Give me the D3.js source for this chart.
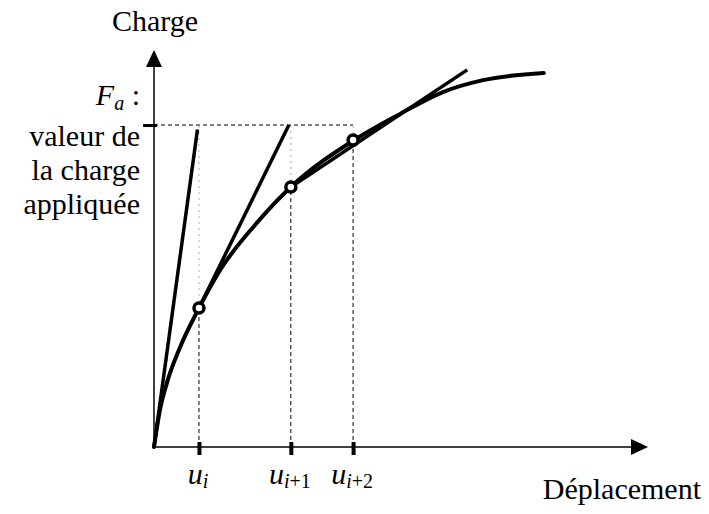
<!DOCTYPE html>
<html>
<head>
<meta charset="utf-8">
<script src="https://cdn.jsdelivr.net/npm/d3@7"></script>
<style>
  body { margin: 0; background: #fff; }
  svg { display: block; font-family: "Liberation Serif", "Times New Roman", serif; }
  .axis-line { stroke: #000; stroke-width: 1.5; fill: none; }
  .arrow { fill: #000; }
  .curve { fill: none; stroke: #000; stroke-width: 4; stroke-linecap: round; }
  .tangent { stroke: #000; stroke-width: 3.5; }
  .guide { stroke: #000; stroke-width: 1; stroke-dasharray: 4,3; }
  .guide-faint { stroke: #aaa; stroke-width: 1; stroke-dasharray: 2,4; }
  .point { fill: #fff; stroke: #000; stroke-width: 3.5; }
  .tick line { stroke: #000; }
  text { fill: #000; }
</style>
</head>
<body>
<svg id="chart" width="709" height="514"></svg>
<script>
// load-displacement curve (arbitrary units, 0..100)
const curveX = [0, 1.2, 2.6, 5.3, 8.9, 13.4, 20.5, 27.7, 40.5, 49.8, 58.5, 66.6, 78.9];
const curveY = [0, 9.3, 16.1, 25.2, 34.5, 44.6, 56.0, 65.5, 77.3, 83.9, 89.4, 92.4, 94.2];

// iterations
const iterU = [9.1, 27.7, 40.3];
const iterF = [35.0, 65.5, 77.3];
const iterSub = ["i", "i", "i"];
const iterSubRest = ["", "+1", "+2"];

const appliedLoad = 81.1;

// tangent (stiffness) segments
const tangentX0 = [0, 9.1, 27.7];
const tangentY0 = [0, 35.0, 65.5];
const tangentX1 = [8.8, 27.3, 63.4];
const tangentY1 = [80.0, 81.1, 95.0];

const leftLabel = ["valeur de", "la charge", "appliquée"];

const x = d3.scaleLinear().domain([0, 100]).range([154, 648]);
const y = d3.scaleLinear().domain([0, 100]).range([447, 50]);

const svg = d3.select("#chart");

// guides
iterU.forEach((u, i) => {
  svg
    .append("line")
    .attr("class", "guide-faint")
    .attr("x1", x(u))
    .attr("x2", x(u))
    .attr("y1", y(iterF[i]))
    .attr("y2", y(appliedLoad));
  svg
    .append("line")
    .attr("class", "guide")
    .attr("x1", x(u))
    .attr("x2", x(u))
    .attr("y1", y(0))
    .attr("y2", y(iterF[i]));
});

svg
  .append("line")
  .attr("class", "guide")
  .attr("x1", x(0))
  .attr("x2", x(iterU[2]))
  .attr("y1", y(appliedLoad))
  .attr("y2", y(appliedLoad));

// axes
const xAxis = svg
  .append("g")
  .attr("transform", `translate(0,${y(0)})`)
  .call(d3.axisBottom(x).tickValues(iterU).tickFormat("").tickSizeOuter(0));
xAxis.select(".domain").remove();
xAxis.selectAll(".tick line").attr("y1", -5).attr("y2", 8).attr("stroke-width", 4);

const yAxis = svg
  .append("g")
  .attr("transform", `translate(${x(0)},0)`)
  .call(d3.axisLeft(y).tickValues([appliedLoad]).tickFormat("").tickSizeOuter(0));
yAxis.select(".domain").remove();
yAxis.selectAll(".tick line").attr("x1", 3).attr("x2", -11).attr("stroke-width", 3);

svg
  .append("line")
  .attr("class", "axis-line")
  .attr("x1", x(0))
  .attr("x2", x(100) - 10)
  .attr("y1", y(0))
  .attr("y2", y(0));

svg
  .append("line")
  .attr("class", "axis-line")
  .attr("x1", x(0))
  .attr("x2", x(0))
  .attr("y1", y(0))
  .attr("y2", y(100) + 10);

svg
  .append("path")
  .attr("class", "arrow")
  .attr("d", `M${x(100)},${y(0)} L${x(100) - 17},${y(0) - 8} L${x(100) - 17},${y(0) + 8} Z`);

svg
  .append("path")
  .attr("class", "arrow")
  .attr("d", `M${x(0)},${y(100)} L${x(0) - 8},${y(100) + 17} L${x(0) + 8},${y(100) + 17} Z`);

// curve
const line = d3
  .line()
  .x(d => x(d[0]))
  .y(d => y(d[1]))
  .curve(d3.curveMonotoneX);

svg
  .append("path")
  .datum(d3.zip(curveX, curveY))
  .attr("class", "curve")
  .attr("d", line);

// tangents
tangentX0.forEach((x0, i) => {
  svg
    .append("line")
    .attr("class", "tangent")
    .attr("x1", x(x0))
    .attr("y1", y(tangentY0[i]))
    .attr("x2", x(tangentX1[i]))
    .attr("y2", y(tangentY1[i]));
});

// iteration points
svg
  .selectAll("circle.point")
  .data(iterU)
  .join("circle")
  .attr("class", "point")
  .attr("cx", d => x(d))
  .attr("cy", (d, i) => y(iterF[i]))
  .attr("r", 5);

// labels
svg
  .append("text")
  .attr("x", 155)
  .attr("y", 31)
  .attr("text-anchor", "middle")
  .attr("font-size", 30)
  .text("Charge");

svg
  .append("text")
  .attr("x", 701)
  .attr("y", 499)
  .attr("text-anchor", "end")
  .attr("font-size", 30)
  .text("Déplacement");

const fa = svg
  .append("text")
  .attr("x", 140)
  .attr("y", 105)
  .attr("text-anchor", "end")
  .attr("font-size", 30);
fa.append("tspan").attr("font-style", "italic").text("F");
fa.append("tspan").attr("font-style", "italic").attr("font-size", 20).attr("dy", 5).text("a");
fa.append("tspan").attr("dy", -5).text(" :");

leftLabel.forEach((t, i) => {
  svg
    .append("text")
    .attr("x", 140)
    .attr("y", 146 + i * 34)
    .attr("text-anchor", "end")
    .attr("font-size", 30)
    .text(t);
});

iterU.forEach((u, i) => {
  const t = svg
    .append("text")
    .attr("x", x(u) - 1)
    .attr("y", 484)
    .attr("text-anchor", "middle")
    .attr("font-size", 30);
  t.append("tspan").attr("font-style", "italic").text("u");
  t.append("tspan").attr("font-style", "italic").attr("font-size", 20).attr("dy", 4).text(iterSub[i]);
  t.append("tspan").attr("font-size", 20).text(iterSubRest[i]);
});
</script>
</body>
</html>
